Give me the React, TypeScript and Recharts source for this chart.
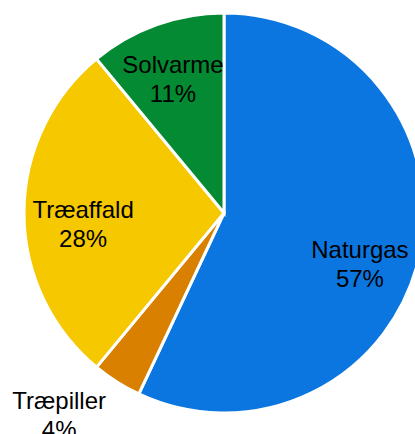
import React from 'react';
import { PieChart, Pie, Cell } from 'recharts';

const names = ['Naturgas', 'Træpiller', 'Træaffald', 'Solvarme'];
const shares = [57, 4, 28, 11];
const colors = ['#0B76DF', '#D98000', '#F5C800', '#038A32'];

// label placement relative to slice middle: radius factor of outerRadius, angle tweak in degrees
const labelLayout: Record<string, { r: number; da: number }> = {
  Naturgas: { r: 0.74, da: -10.7 },
  'Træpiller': { r: 1.333, da: -5.8 },
  'Træaffald': { r: 0.711, da: 7.7 },
  Solvarme: { r: 0.678, da: 2.3 },
};

const data = names.map((name, i) => ({ name, value: shares[i] }));

const RADIAN = Math.PI / 180;

const renderLabel = (props: any) => {
  const { cx, cy, midAngle, outerRadius, name, value } = props;
  const lay = labelLayout[name] || { r: 0.7, da: 0 };
  const a = (midAngle + lay.da) * RADIAN;
  const x = cx + outerRadius * lay.r * Math.cos(a);
  const y = cy - outerRadius * lay.r * Math.sin(a);
  return (
    <text
      x={x}
      y={y}
      textAnchor="middle"
      fill="#000"
      fontSize={24}
      fontFamily="'Liberation Sans', Arial, sans-serif"
    >
      <tspan x={x} dy={-14}>{name}</tspan>
      <tspan x={x} dy={29}>{value}%</tspan>
    </text>
  );
};

export default function App() {
  return (
    <div style={{ position: 'absolute', left: 0, top: 0, width: 415, height: 434, overflow: 'hidden', background: '#fff' }}>
      <PieChart width={415} height={434} margin={{ top: 0, right: 0, bottom: 0, left: 0 }}>
        <Pie
          data={data}
          dataKey="value"
          nameKey="name"
          cx={224}
          cy={213}
          outerRadius={200}
          startAngle={90}
          endAngle={-270}
          stroke="#fff"
          strokeWidth={3}
          label={renderLabel}
          labelLine={false}
          isAnimationActive={false}
        >
          {data.map((d, i) => (
            <Cell key={d.name} fill={colors[i]} />
          ))}
        </Pie>
      </PieChart>
    </div>
  );
}
